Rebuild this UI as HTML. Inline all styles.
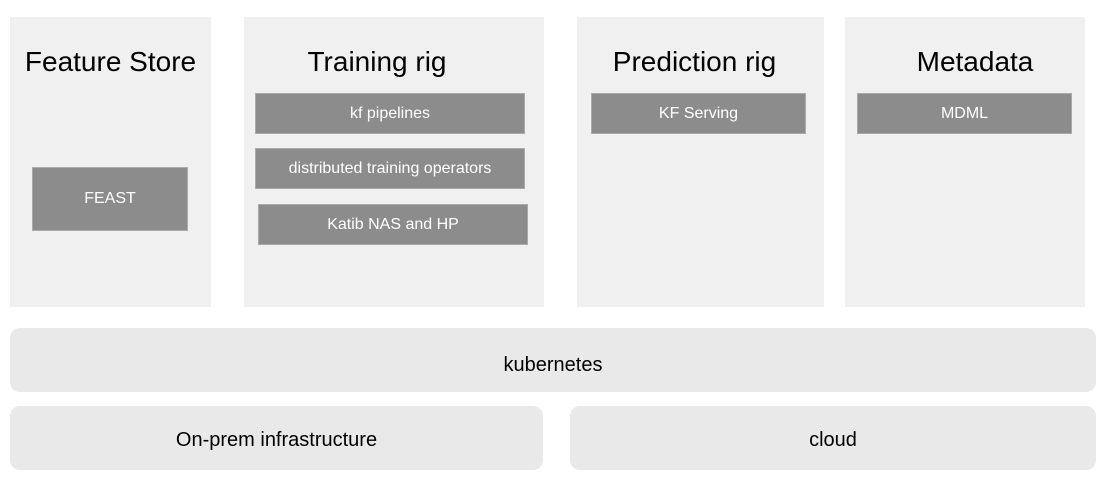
<!DOCTYPE html>
<html><head><style>
body{margin:0;width:1106px;height:488px;background:#fff;font-family:"Liberation Sans",Arial,sans-serif;position:relative;overflow:hidden}
.p{position:absolute;background:#f0f0f0}
.t{position:absolute;font-size:28px;color:#000;text-align:center;line-height:30px}
.b{position:absolute;background:#8c8c8c;border:1px solid #aaa;box-sizing:border-box;color:#fff;font-size:16px;display:flex;align-items:center;justify-content:center}
.r{position:absolute;background:#e9e9e9;border-radius:10px;font-size:20px;color:#000;display:flex;align-items:center;justify-content:center;box-sizing:border-box}
</style></head><body>
<div class="p" style="left:10px;top:17px;width:201px;height:290px"></div>
<div class="p" style="left:244px;top:17px;width:300px;height:290px"></div>
<div class="p" style="left:577px;top:17px;width:247px;height:290px"></div>
<div class="p" style="left:845px;top:17px;width:240px;height:290px"></div>
<div class="t" style="left:10px;top:47px;width:201px">Feature Store</div>
<div class="t" style="left:244px;top:47px;width:266px">Training rig</div>
<div class="t" style="left:577px;top:47px;width:235px">Prediction rig</div>
<div class="t" style="left:845px;top:47px;width:260px">Metadata</div>
<div class="b" style="left:32px;top:167px;width:156px;height:64px">FEAST</div>
<div class="b" style="left:255px;top:93px;width:270px;height:41px">kf pipelines</div>
<div class="b" style="left:255px;top:148px;width:270px;height:41px">distributed training operators</div>
<div class="b" style="left:258px;top:204px;width:270px;height:41px">Katib NAS and HP</div>
<div class="b" style="left:591px;top:93px;width:215px;height:41px">KF Serving</div>
<div class="b" style="left:857px;top:93px;width:215px;height:41px">MDML</div>
<div class="r" style="left:10px;top:328px;width:1086px;height:64px;padding-top:11px">kubernetes</div>
<div class="r" style="left:10px;top:406px;width:533px;height:64px;padding-top:4px">On-prem infrastructure</div>
<div class="r" style="left:570px;top:406px;width:526px;height:64px;padding-top:4px">cloud</div>
</body></html>
